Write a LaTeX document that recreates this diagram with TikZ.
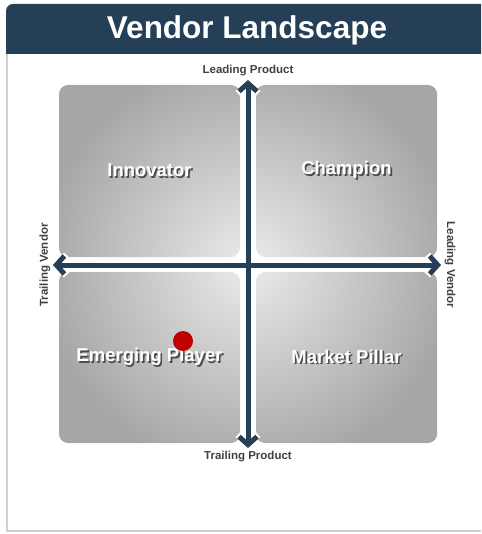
\documentclass[tikz,border=0pt]{standalone}
\usepackage{fontspec}
\setmainfont{Liberation Sans}
\usetikzlibrary{arrows.meta}
\definecolor{navy}{HTML}{243F56}
\definecolor{framegray}{HTML}{D0D0D0}
\definecolor{dotred}{HTML}{C00000}
\definecolor{labgray}{HTML}{404040}
\definecolor{shadecenter}{HTML}{EBEBEB}
\definecolor{shadeedge}{HTML}{A6A6A6}
% central 50bp square of the shading is mapped to the shaded path's box (half-size 280)
\pgfdeclareradialshading{quadshade}{\pgfpoint{0bp}{0bp}}{color(0bp)=(shadecenter); color(18.5bp)=(shadeedge); color(50bp)=(shadeedge)}
\newcommand{\shadowed}[1]{\makebox[0pt][l]{\kern1.6pt\raisebox{-1.6pt}{\textcolor{black!70}{#1}}}#1}
\tikzset{
  quadtxt/.style={text=white, font=\bfseries\fontsize{18.5}{20}\selectfont, inner sep=0pt},
  axlabel/.style={text=labgray, font=\bfseries\fontsize{11.5}{12}\selectfont, inner sep=0pt},
  tipstyle/.style={{Straight Barb[length=8pt,width=18pt]}-{Straight Barb[length=8pt,width=18pt]}},
  axwhite/.style={white, line width=10pt, tipstyle},
  axline/.style={navy, line width=5pt, tipstyle}
}
\begin{document}
\begin{tikzpicture}[x=1pt,y=-1pt]
\useasboundingbox (0,0) rectangle (481,534);
% frame
\draw[framegray, line width=2pt] (7,54) -- (7,531) -- (481,531);
% title bar
\fill[navy] (481,54) -- (6,54) [rounded corners=7pt] -- (6,4) [sharp corners] -- (481,4) -- cycle;
\node[text=white, font=\bfseries\fontsize{31.5}{34}\selectfont, inner sep=0pt] (title) at (247,30) {Vendor Landscape};
% quadrants (one radial gradient centred on the matrix)
\coordinate (mc) at (248,265);
\begin{scope}
  \clip[rounded corners=9pt] (59,85) rectangle (240,257)
                             (256,85) rectangle (437,257)
                             (59,272) rectangle (240,443)
                             (256,272) rectangle (437,443);
  \shade[shading=quadshade] ([shift={(-280,-280)}]mc) rectangle ([shift={(280,280)}]mc);
\end{scope}
\coordinate (tl) at (149.5,171);
\coordinate (tr) at (346.5,171);
\coordinate (bl) at (149.5,357.5);
\coordinate (br) at (346.5,357.5);
% axes
\coordinate (ptop) at (248,80);
\coordinate (pbot) at (248,448);
\coordinate (pleft) at (53,265);
\coordinate (pright) at (441,265);
\draw[axwhite] (ptop) -- (pbot);
\draw[axwhite] (pleft) -- (pright);
\draw[axline] (ptop) -- (pbot);
\draw[axline] (pleft) -- (pright);
% quadrant labels
\node[quadtxt] (ltl) at (tl) {\shadowed{Innovator}};
\node[quadtxt] (ltr) at (tr) {\shadowed{Champion}};
\node[quadtxt] (lbl) at (bl) {\shadowed{Emerging Player}};
\node[quadtxt] (lbr) at (br) {\shadowed{Market Pillar}};
% axis labels
\node[axlabel] (lp) at (248,71) {Leading Product};
\node[axlabel] (tp) at (248,457) {Trailing Product};
\node[axlabel, rotate=90] (tv) at (45,265) {Trailing Vendor};
\node[axlabel, rotate=-90] (lv) at (450,265) {Leading Vendor};
% dot
\fill[dotred] (183,341) circle (10pt);
\end{tikzpicture}
\end{document}
